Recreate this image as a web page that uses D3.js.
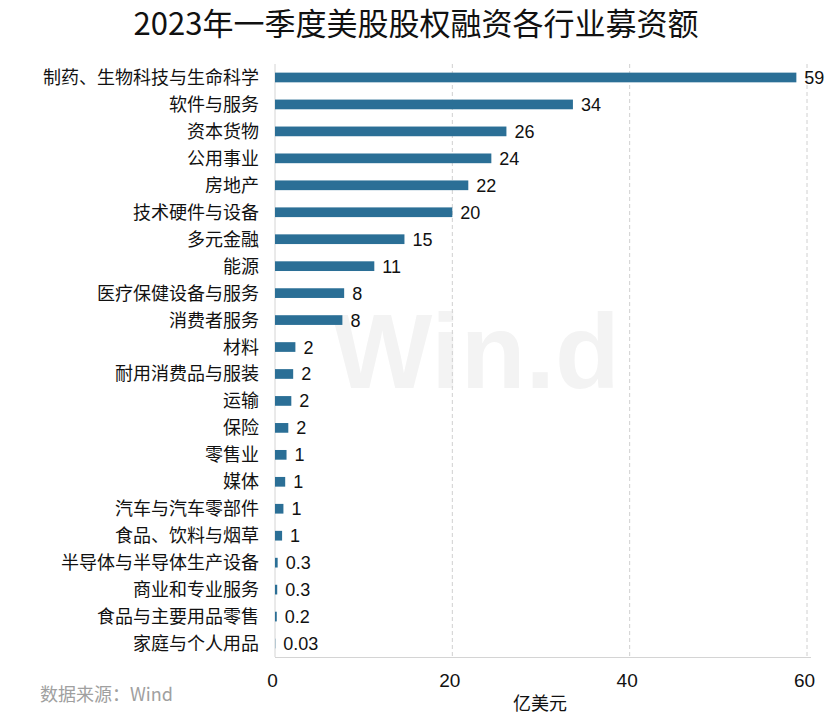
<!DOCTYPE html>
<html><head><meta charset="utf-8">
<script src="https://cdn.jsdelivr.net/npm/d3@7"></script>
<style>
body{margin:0;background:#fff;}
svg{display:block;font-family:"Noto Sans CJK SC","Liberation Sans",sans-serif;}
</style></head>
<body>
<script>
const categories = ["制药、生物科技与生命科学","软件与服务","资本货物","公用事业","房地产","技术硬件与设备","多元金融","能源","医疗保健设备与服务","消费者服务","材料","耐用消费品与服装","运输","保险","零售业","媒体","汽车与汽车零部件","食品、饮料与烟草","半导体与半导体生产设备","商业和专业服务","食品与主要用品零售","家庭与个人用品"];
const values = [58.8,33.6,26.1,24.4,21.8,20.0,14.6,11.2,7.8,7.6,2.3,2.05,1.84,1.5,1.3,1.15,0.95,0.8,0.3,0.25,0.2,0.03];
const valueLabels = ["59","34","26","24","22","20","15","11","8","8","2","2","2","2","1","1","1","1","0.3","0.3","0.2","0.03"];
const xTicks = [0,20,40,60];
const title = "2023年一季度美股股权融资各行业募资额";
const unitLabel = "亿美元";
const sourceLabel = "数据来源：Wind";

const W = 834, H = 718;
const svg = d3.select("body").append("svg").attr("width", W).attr("height", H);

const x = d3.scaleLinear().domain([0,60]).range([275,807]);
const y = d3.scaleBand().domain(categories).range([64,657]).paddingInner(0.64).paddingOuter(0.32);

// watermark
svg.append("text").attr("x",476).attr("y",388).attr("text-anchor","middle")
  .attr("font-family","Liberation Sans, Arial, sans-serif").attr("font-weight","bold")
  .attr("font-size",106).attr("fill","#f3f3f3").text("Win.d");

// gridlines
svg.append("g").selectAll("line").data(xTicks.filter(d=>d>0)).join("line")
  .attr("x1",d=>x(d)).attr("x2",d=>x(d)).attr("y1",64).attr("y2",657)
  .attr("stroke","#d0d0d0").attr("stroke-dasharray","4,3").attr("stroke-width",1);

// axis lines
svg.append("line").attr("x1",x(0)).attr("x2",x(0)).attr("y1",64).attr("y2",657).attr("stroke","#d4d4d4");
svg.append("line").attr("x1",x(0)).attr("x2",811).attr("y1",657.5).attr("y2",657.5).attr("stroke","#d4d4d4");

// bars
svg.append("g").selectAll("rect").data(categories).join("rect")
  .attr("x",x(0)).attr("y",(d)=>y(d))
  .attr("width",(d,i)=>x(values[i])-x(0)).attr("height",y.bandwidth())
  .attr("fill","#2b6f96");

// value labels
svg.append("g").selectAll("text").data(categories).join("text")
  .attr("x",(d,i)=>x(values[i])+8).attr("y",d=>y(d)+y.bandwidth()/2)
  .attr("dy","0.36em").attr("font-family","Liberation Sans, Arial, sans-serif")
  .attr("font-size",18).attr("fill","#111").text((d,i)=>valueLabels[i]);

// category labels
svg.append("g").selectAll("text").data(categories).join("text")
  .attr("x",259).attr("y",d=>y(d)+y.bandwidth()/2).attr("dy","0.36em")
  .attr("text-anchor","end").attr("font-size",18).attr("fill","#111").text(d=>d);

// x tick labels
const xAxis = d3.axisBottom(x).tickValues(xTicks).tickSize(0).tickPadding(14);
const gx = svg.append("g").attr("transform","translate(0,665)").call(xAxis);
gx.select(".domain").remove();
gx.selectAll("text").attr("font-family","Liberation Sans Narrow, Liberation Sans, sans-serif")
  .attr("font-size",19).attr("fill","#111").attr("dy","0").attr("y",22).attr("dx",-3);

// unit
svg.append("text").attr("x",540).attr("y",710).attr("text-anchor","middle")
  .attr("font-size",18).attr("fill","#111").text(unitLabel);

// source
svg.append("text").attr("x",40).attr("y",701).attr("font-size",18).attr("fill","#a0a0a0").text(sourceLabel);

// title
svg.append("text").attr("x",416).attr("y",35).attr("text-anchor","middle")
  .attr("font-size",31).attr("fill","#111").text(title);
</script>
</body></html>
